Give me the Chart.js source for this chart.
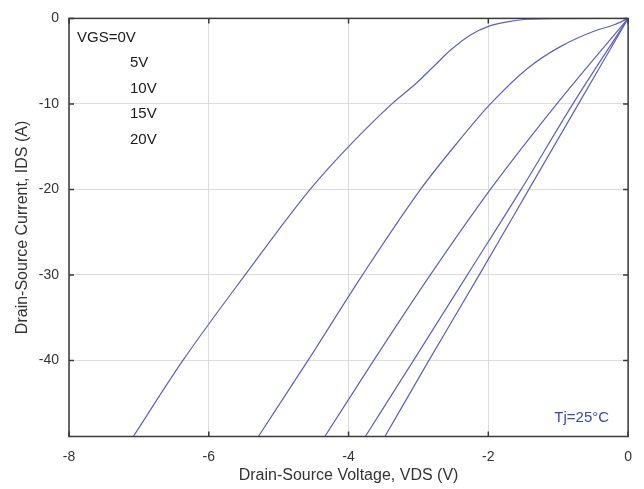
<!DOCTYPE html>
<html>
<head>
<meta charset="utf-8">
<script src="https://cdn.jsdelivr.net/npm/chart.js@4/dist/chart.umd.min.js"></script>
<style>
  html, body { margin: 0; padding: 0; background: #fff; }
  #wrap { width: 644px; height: 489px; }
</style>
</head>
<body>
<div id="wrap"><canvas id="chart" width="644" height="489"></canvas></div>
<script>
// values (VDS in V, IDS in A)
const VGS_LABELS = ['VGS=0V', '5V', '10V', '15V', '20V'];

const VGS0_VDS  = [0, -1.0, -1.45, -1.73, -1.99, -2.25, -2.54, -2.78, -3.02, -3.38, -4.0, -4.55, -5.48, -6.37, -7.08];
const VGS0_IDS  = [0, -0.02, -0.1, -0.4, -0.9, -1.9, -3.7, -5.6, -7.5, -10, -15, -20, -30, -40, -48.9];

const VGS5_VDS  = [0, -0.20, -0.49, -0.97, -1.44, -1.97, -2.44, -2.97, -3.80, -4.58, -5.29];
const VGS5_IDS  = [0, -0.75, -1.5, -3.3, -5.85, -10, -14.5, -20, -30, -40, -48.9];

const VGS10_VDS = [0, -1.02, -1.97, -2.83, -3.64, -4.34];
const VGS10_IDS = [0, -10, -20, -30, -40, -48.9];

const VGS15_VDS = [0, -0.79, -1.53, -2.30, -3.07, -3.76];
const VGS15_IDS = [0, -10, -20, -30, -40, -48.9];

const VGS20_VDS = [0, -0.71, -1.42, -2.13, -2.85, -3.48];
const VGS20_IDS = [0, -10, -20, -30, -40, -48.9];

const X_TICKS = [-8, -6, -4, -2, 0];
const Y_TICKS = [-40, -30, -20, -10, 0];

const LINE_COLOR = '#5d60bd';
const AXIS_COLOR = '#3a3a3a';
const FONT = '"Liberation Sans", Arial, sans-serif';

function toPoints(xs, ys) {
    return xs.map((x, i) => ({ x, y: ys[i] }));
}

const series = [
    [VGS0_VDS, VGS0_IDS],
    [VGS5_VDS, VGS5_IDS],
    [VGS10_VDS, VGS10_IDS],
    [VGS15_VDS, VGS15_IDS],
    [VGS20_VDS, VGS20_IDS]
];

const datasets = series.map(([xs, ys], i) => ({
    label: VGS_LABELS[i],
    data: toPoints(xs, ys),
    borderColor: LINE_COLOR,
    borderWidth: 1.2,
    pointRadius: 0,
    cubicInterpolationMode: 'monotone',
    fill: false
}));

// box, inward ticks and the text notes
const framePlugin = {
    id: 'frame',
    afterDatasetsDraw(chart) {
        const { ctx, chartArea: a, scales } = chart;
        ctx.save();
        ctx.strokeStyle = AXIS_COLOR;
        ctx.lineWidth = 1.5;
        ctx.strokeRect(a.left, a.top, a.right - a.left, a.bottom - a.top);

        ctx.beginPath();
        X_TICKS.forEach((v) => {
            const px = scales.x.getPixelForValue(v);
            ctx.moveTo(px, a.bottom); ctx.lineTo(px, a.bottom - 5);
            ctx.moveTo(px, a.top);    ctx.lineTo(px, a.top + 5);
        });
        Y_TICKS.forEach((v) => {
            const py = scales.y.getPixelForValue(v);
            ctx.moveTo(a.left, py);  ctx.lineTo(a.left + 5, py);
            ctx.moveTo(a.right, py); ctx.lineTo(a.right - 5, py);
        });
        ctx.stroke();

        ctx.font = '15px ' + FONT;
        ctx.textBaseline = 'middle';
        ctx.fillStyle = '#1a1a1a';
        ctx.textAlign = 'left';
        ctx.fillText(VGS_LABELS[0], a.left + 8, a.top + 19);
        for (let i = 1; i < VGS_LABELS.length; i++) {
            ctx.fillText(VGS_LABELS[i], a.left + 61, a.top + 19 + i * 25.6);
        }

        ctx.fillStyle = '#3a49a8';
        ctx.textAlign = 'right';
        ctx.fillText('Tj=25°C', a.right - 19, a.bottom - 19);
        ctx.restore();
    }
};

new Chart(document.getElementById('chart').getContext('2d'), {
    type: 'line',
    data: { datasets },
    options: {
        responsive: false,
        animation: false,
        layout: { padding: { top: 15, right: 13, left: 0, bottom: 0 } },
        plugins: {
            legend: { display: false },
            tooltip: { enabled: false }
        },
        scales: {
            x: {
                type: 'linear',
                min: -8,
                max: 0,
                afterBuildTicks: (s) => { s.ticks = X_TICKS.map((v) => ({ value: v })); },
                afterFit: (s) => { s.height = 52.5; },
                grid: { color: '#dcdcdc', lineWidth: 1, drawTicks: false },
                border: { display: false },
                ticks: { color: '#333', padding: 12, font: { family: FONT, size: 14 } },
                title: {
                    display: true,
                    text: 'Drain-Source Voltage, VDS (V)',
                    color: '#333',
                    padding: { top: 0, bottom: 4 },
                    font: { family: FONT, size: 16 }
                }
            },
            y: {
                type: 'linear',
                min: -48.9,
                max: 0,
                afterBuildTicks: (s) => { s.ticks = Y_TICKS.map((v) => ({ value: v })); },
                afterFit: (s) => { s.width = 69; },
                grid: { color: '#dcdcdc', lineWidth: 1, drawTicks: false },
                border: { display: false },
                ticks: { color: '#333', padding: 10, font: { family: FONT, size: 14 } },
                title: {
                    display: true,
                    text: 'Drain-Source Current, IDS (A)',
                    color: '#333',
                    padding: { top: 13, bottom: 0 },
                    font: { family: FONT, size: 16 }
                }
            }
        }
    },
    plugins: [framePlugin]
});
</script>
</body>
</html>
